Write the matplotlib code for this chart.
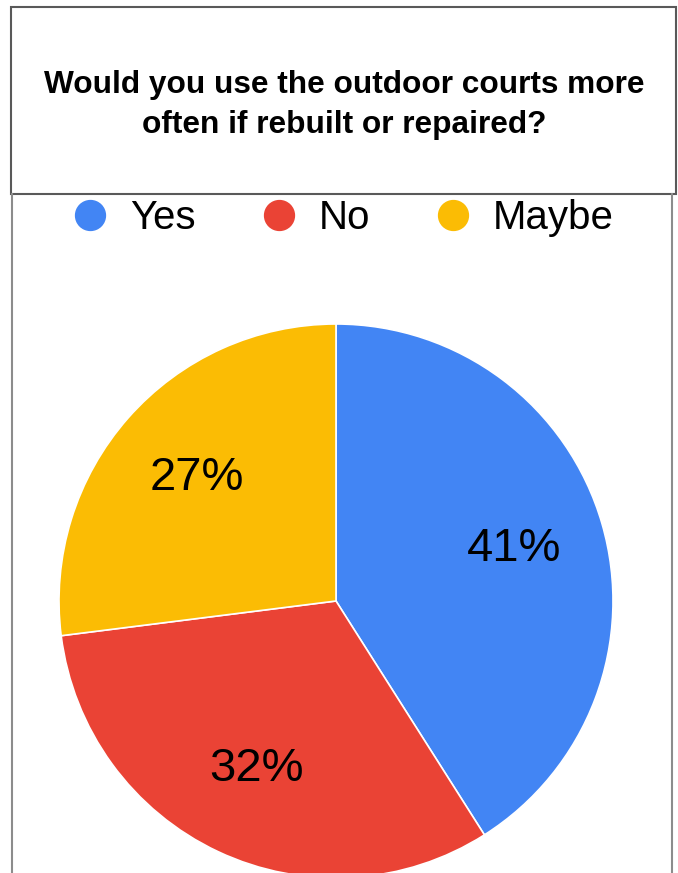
import matplotlib.pyplot as plt
from matplotlib.lines import Line2D
from matplotlib.patches import Rectangle

plt.rcParams['font.family'] = ['Liberation Sans', 'DejaVu Sans']

labels = ['Yes', 'No', 'Maybe']
values = [41, 32, 27]
colors = ['#4285f4', '#ea4335', '#fbbc04']
title = 'Would you use the outdoor courts more\noften if rebuilt or repaired?'

W, H = 678, 873
fig = plt.figure(figsize=(W / 100, H / 100), dpi=100)

# pie: center (336, 601) px from top, radius 277 px
cx, cy, r = 336, 601, 277
ax = fig.add_axes([(cx - r) / W, (H - cy - r) / H, 2 * r / W, 2 * r / H])
wedges, texts, autotexts = ax.pie(values, colors=colors, startangle=90, counterclock=False,
                                  autopct='%1.0f%%', pctdistance=0.67,
                                  wedgeprops=dict(edgecolor='white', linewidth=1.2),
                                  textprops=dict(fontsize=34, color='black'))
ax.set_xlim(-1, 1)
ax.set_ylim(-1, 1)
ax.set_aspect('equal')
for w in wedges:
    w.set_clip_on(False)

# title box
fig.patches.append(Rectangle((11 / W, 1 - 194 / H), 665 / W, 187 / H, transform=fig.transFigure,
                             facecolor='white', edgecolor='#595959', linewidth=1.5))
fig.text(344 / W, 1 - 105 / H, title, ha='center', va='center', fontsize=22.8,
         fontweight='bold', linespacing=1.45)

# side borders
fig.add_artist(Line2D([12 / W, 12 / W], [0, 1 - 194 / H], color='#8c8c8c', linewidth=1.5))
fig.add_artist(Line2D([672 / W, 672 / W], [0, 1 - 194 / H], color='#8c8c8c', linewidth=1.5))

handles = [Line2D([], [], marker='o', linestyle='', markersize=21.5, markerfacecolor=c,
                  markeredgecolor=c) for c in colors]
fig.legend(handles, labels, loc='center', bbox_to_anchor=(342 / W, 1 - 218 / H), ncol=3,
           frameon=False, fontsize=29, handlelength=1.0, handletextpad=0.5,
           columnspacing=1.55, borderaxespad=0)

fig.savefig('out.png', dpi=100)
